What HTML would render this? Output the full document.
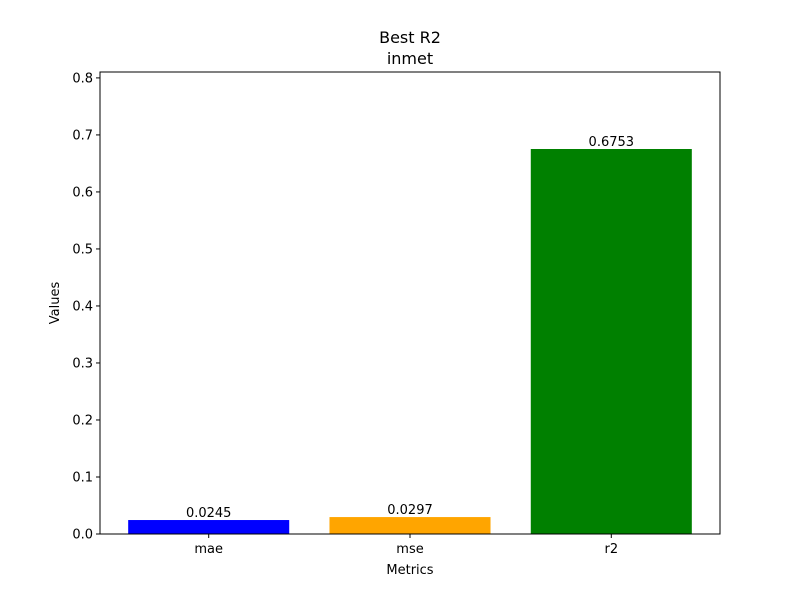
<!DOCTYPE html>
<html><head><meta charset="utf-8"><style>
body{margin:0;background:#fff;}
svg text{font-family:"DejaVu Sans","Liberation Sans",sans-serif;fill:#000;}
</style></head><body>
<svg id="chart" width="800" height="600" xmlns="http://www.w3.org/2000/svg">
<rect width="800" height="600" fill="#fff"/>
<text x="410" y="43" font-size="16" text-anchor="middle">Best R2</text>
<text x="410" y="64" font-size="16" text-anchor="middle">inmet</text>
<text x="410" y="574" font-size="13" text-anchor="middle">Metrics</text>
<text transform="translate(59,303) rotate(-90)" font-size="13" text-anchor="middle">Values</text>
<g id="marks"></g>
<rect x="100" y="72" width="620" height="462" fill="none" stroke="#000" stroke-width="1"/>
</svg>
<script>
const categories=["mae","mse","r2"];
const values=[0.0245,0.0297,0.6753];
const colors=["blue","orange","green"];
const yTicks=[0,0.1,0.2,0.3,0.4,0.5,0.6,0.7,0.8];
const L=100,R=720,T=72,B=534,xmin=-0.54,xmax=2.54,ymax=0.81036;
function X(v){return L+(v-xmin)/(xmax-xmin)*(R-L);}
function Y(v){return B-v/ymax*(B-T);}
const g=document.getElementById('marks');
const NS="http://www.w3.org/2000/svg";
function mk(t,a){const e=document.createElementNS(NS,t);for(const k in a)e.setAttribute(k,a[k]);g.appendChild(e);return e;}
yTicks.forEach(v=>{
  const y=Y(v);
  const l=mk('line',{x1:L-4,x2:L,y1:y,y2:y,stroke:'#000'});
  
  
  const t=mk('text',{x:L-7,y:y+4.5,'font-size':13,'text-anchor':'end'});
  t.textContent=v.toFixed(1);
  
  
});
categories.forEach((c,i)=>{
  const x0=X(i-0.4),x1=X(i+0.4),y=Y(values[i]);
  const r=mk('rect',{x:x0,y:y,width:x1-x0,height:B-y,fill:colors[i]});
  
  
  const tk=mk('line',{x1:X(i),x2:X(i),y1:B,y2:B+4,stroke:'#000'});
  
  
  const tl=mk('text',{x:X(i),y:B+19,'font-size':13,'text-anchor':'middle'});
  tl.textContent=c;
  
  
  const vl=mk('text',{x:X(i),y:y-3,'font-size':13,'text-anchor':'middle'});
  vl.textContent=values[i].toFixed(4);
  
  
});
</script>
</body></html>
